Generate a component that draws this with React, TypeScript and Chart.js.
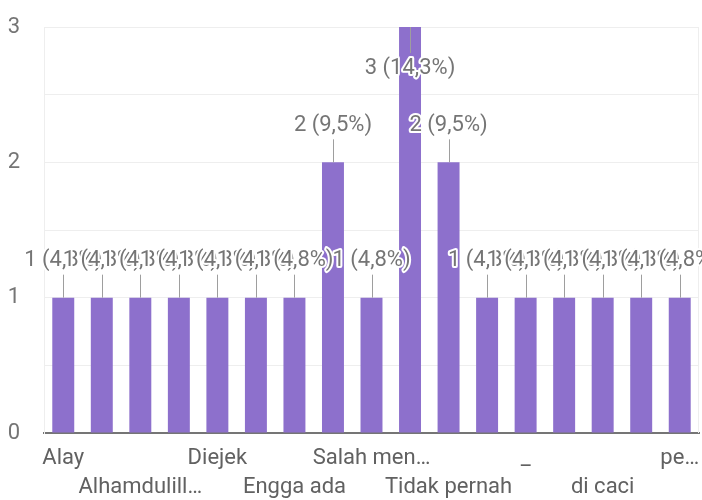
import React, { useEffect, useRef } from 'react';
import { Chart, registerables } from 'chart.js';

Chart.register(...registerables);

// Categories (hidden labels between the visible ones are not readable in the picture)
const categories: string[] = [
  'Alay',
  'Aku',
  'Alhamdulill…',
  'Biasa saja',
  'Diejek',
  'Dihina',
  'Engga ada',
  'Pernah',
  'Salah men…',
  'Tidak',
  'Tidak pernah',
  'Tidak ada',
  '_',
  'biasa',
  'di caci',
  'malu',
  'pe…',
];

const counts: number[] = [1, 1, 1, 1, 1, 1, 1, 2, 1, 3, 2, 1, 1, 1, 1, 1, 1];

const yTickValues: number[] = [0, 1, 2, 3];

const BAR_COLOR = '#8d70cc';
const TEXT_COLOR = '#757575';
const FONT_FAMILY = 'Roboto, "Noto Sans", sans-serif';
const FONT_SIZE = 22;

const total = counts.reduce((a, b) => a + b, 0);
const pctLabel = (v: number) =>
  `${v} (${((v / total) * 100).toFixed(1).replace('.', ',')}%)`;

const barLabelPlugin = {
  id: 'barLabels',
  afterDatasetsDraw(chart: any) {
    const { ctx, chartArea } = chart;
    const meta = chart.getDatasetMeta(0);
    ctx.save();
    // frame line on the right
    ctx.strokeStyle = '#eeeeee';
    ctx.lineWidth = 1;
    ctx.beginPath();
    ctx.moveTo(Math.round(chartArea.right) - 0.5, chartArea.top);
    ctx.lineTo(Math.round(chartArea.right) - 0.5, chartArea.bottom);
    ctx.stroke();

    ctx.font = `${FONT_SIZE}px ${FONT_FAMILY}`;
    ctx.textAlign = 'center';
    ctx.textBaseline = 'middle';
    meta.data.forEach((bar: any, i: number) => {
      const v = counts[i];
      const x = Math.round(bar.x) + 0.5;
      const top = bar.y;
      const inside = top - 50 < 0;
      const lineEnd = inside ? top + 26 : top - 23;
      const ty = inside ? top + 41 : top - 37;
      ctx.strokeStyle = '#9e9e9e';
      ctx.lineWidth = 1;
      ctx.beginPath();
      ctx.moveTo(x, top);
      ctx.lineTo(x, lineEnd);
      ctx.stroke();
      const text = pctLabel(v);
      ctx.lineWidth = 4;
      ctx.lineJoin = 'round';
      ctx.strokeStyle = '#ffffff';
      ctx.strokeText(text, bar.x, ty);
      ctx.fillStyle = TEXT_COLOR;
      ctx.fillText(text, bar.x, ty);
    });
    ctx.restore();
  },
};

export default function App() {
  const canvasRef = useRef<HTMLCanvasElement | null>(null);

  useEffect(() => {
    document.body.style.margin = '0';
    const canvas = canvasRef.current;
    if (!canvas) return;
    const chart = new Chart(canvas, {
      type: 'bar',
      data: {
        labels: categories,
        datasets: [
          {
            data: counts,
            backgroundColor: BAR_COLOR,
            borderWidth: 0,
            barPercentage: 0.57,
            categoryPercentage: 1,
          },
        ],
      },
      options: {
        animation: false,
        responsive: false,
        maintainAspectRatio: false,
        layout: { padding: { top: 27, right: 3, left: 0, bottom: 0 } },
        plugins: {
          legend: { display: false },
          tooltip: { enabled: false },
          title: { display: false },
        },
        scales: {
          x: {
            grid: { display: false, drawTicks: false },
            border: { display: true, color: '#757575', width: 2 },
            ticks: {
              autoSkip: false,
              maxRotation: 0,
              minRotation: 0,
              padding: 11,
              color: '#616161',
              font: { family: FONT_FAMILY, size: FONT_SIZE, lineHeight: 29 / FONT_SIZE },
              callback: (_v: any, index: number) => {
                if (index % 2 !== 0) return '';
                const label = categories[index];
                return index % 4 === 0 ? [label] : ['', label];
              },
            },
            afterFit: (scale: any) => {
              scale.height = 67;
              scale.paddingLeft = 0;
              scale.paddingRight = 0;
            },
          },
          y: {
            min: 0,
            max: 3,
            grid: { color: '#eeeeee', lineWidth: 1, drawTicks: false },
            border: { display: true, color: '#eeeeee', width: 1 },
            ticks: {
              stepSize: 0.5,
              padding: 24,
              crossAlign: 'center',
              color: TEXT_COLOR,
              font: { family: FONT_FAMILY, size: FONT_SIZE },
              callback: (v: any) => (yTickValues.includes(Number(v)) ? String(v) : ''),
            },
            afterFit: (scale: any) => {
              scale.width = 44;
              scale.paddingTop = 0;
              scale.paddingBottom = 0;
            },
          },
        },
      },
      plugins: [barLabelPlugin],
    });
    return () => chart.destroy();
  }, []);

  return (
    <div style={{ width: 702, height: 500, background: '#ffffff' }}>
      <canvas ref={canvasRef} width={702} height={500} />
    </div>
  );
}
